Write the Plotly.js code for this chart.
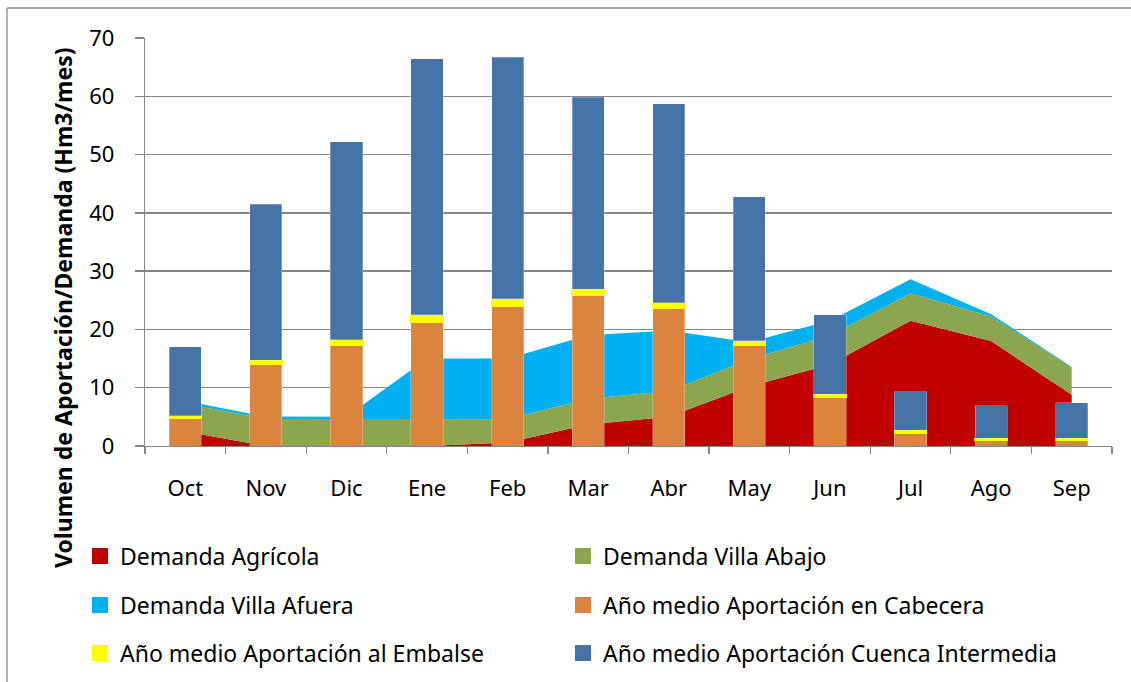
<!DOCTYPE html>
<html>
<head>
<meta charset="utf-8">
<script src="https://cdn.plot.ly/plotly-3.0.1.min.js"></script>
<style>html,body{margin:0;padding:0;background:#fff;}#chart{width:1131px;height:682px;}</style>
</head>
<body>
<div id="chart"></div>
<script>
// ---- data ----
var months = ["Oct","Nov","Dic","Ene","Feb","Mar","Abr","May","Jun","Jul","Ago","Sep"];
var demandaAgricola   = [2.5, 0.0, 0.0, 0.0, 0.6, 3.7, 5.0, 10.2, 14.0, 21.5, 18.0, 8.8];
var demandaVillaAbajo = [4.75, 4.65, 4.65, 4.65, 4.0, 4.4, 4.4, 4.7, 4.95, 4.7, 4.2, 4.7];
var demandaVillaAfuera= [0.45, 0.4, 0.35, 10.35, 10.4, 10.9, 10.4, 2.9, 2.55, 2.4, 0.4, 0.1];
var aportCabecera     = [4.7, 14.0, 17.2, 21.2, 24.0, 25.8, 23.6, 17.3, 8.3, 2.2, 0.9, 0.9];
var aportEmbalse      = [0.5, 0.7, 1.0, 1.3, 1.3, 1.1, 1.0, 0.8, 0.6, 0.5, 0.4, 0.4];
var aportIntermedia   = [11.8, 26.8, 34.0, 43.9, 41.4, 32.9, 34.1, 24.7, 13.6, 6.6, 5.6, 6.1];
var yTicks = [0,10,20,30,40,50,60,70];

var names = {
  agr: "Demanda Agrícola",
  abajo: "Demanda Villa Abajo",
  afuera: "Demanda Villa Afuera",
  cab: "Año medio Aportación en Cabecera",
  emb: "Año medio Aportación al Embalse",
  int: "Año medio Aportación Cuenca Intermedia"
};
var colors = {
  agr: "#C00000", abajo: "#8BA64E", afuera: "#00B0F0",
  cab: "#DB843F", emb: "#FFFF00", int: "#4573A7"
};

function area(key, vals){
  return {type:"scatter", mode:"none", x:months, y:vals, stackgroup:"dem",
    fill:"tonexty", fillcolor:colors[key], name:names[key], showlegend:false,
    xaxis:"x", yaxis:"y", hoverinfo:"skip", line:{width:0}};
}
function bar(key, vals){
  return {type:"bar", x:months, y:vals, name:names[key], showlegend:false,
    marker:{color:colors[key], line:{color: key==="emb" ? "#FFFF00" : "rgba(255,255,255,0.35)", width: key==="emb" ? 1.2 : 0.8}},
    xaxis:"x2", yaxis:"y2", hoverinfo:"skip"};
}
function proxy(key, legendId){
  return {type:"scatter", mode:"markers", x:[null], y:[null], name:names[key],
    marker:{symbol:"square", size:16, color:colors[key]}, legend:legendId,
    xaxis:"x2", yaxis:"y2", hoverinfo:"skip", showlegend:true};
}

var data = [
  area("agr", demandaAgricola),
  area("abajo", demandaVillaAbajo),
  area("afuera", demandaVillaAfuera),
  bar("cab", aportCabecera),
  bar("emb", aportEmbalse),
  bar("int", aportIntermedia),
  proxy("agr","legend"), proxy("abajo","legend2"),
  proxy("afuera","legend3"), proxy("cab","legend4"),
  proxy("emb","legend5"), proxy("int","legend6")
];

var FONT = "'Noto Sans', 'Open Sans', sans-serif";
var FS = 22, FSL = 23;
var L = 145, R = 19, T = 38, B = 236, W = 1131, H = 682;
var pw = W - L - R, ph = H - T - B;
function px2x(p){ return (p - L) / pw; }
function py2y(p){ return (H - B - p) / ph; }

function leg(xPix, yPix){
  return {orientation:"h", traceorder:"normal", x:px2x(xPix), xanchor:"left", y:py2y(yPix), yanchor:"middle",
    font:{family:FONT, size:FSL, color:"#000"},
    bgcolor:"rgba(0,0,0,0)", borderwidth:0, itemclick:false, itemdoubleclick:false};
}

var layout = {
  width:W, height:H,
  margin:{l:L, r:R, t:T, b:B, pad:0, autoexpand:false},
  paper_bgcolor:"#fff", plot_bgcolor:"#fff",
  font:{family:FONT, size:FS, color:"#000"},
  barmode:"stack", bargap:0.6,
  showlegend:true,
  xaxis:{type:"category", categoryorder:"array", categoryarray:months, range:[-0.5,11.5],
    showline:true, linecolor:"#868686", linewidth:1.3, showgrid:false,
    ticks:"outside", tickson:"boundaries", ticklen:7, tickcolor:"#868686", tickwidth:1.3,
    ticklabelstandoff:22, tickfont:{family:FONT, size:FS, color:"#000"}, zeroline:false, fixedrange:true, automargin:false},
  yaxis:{range:[0,70], tickvals:yTicks, ticktext:yTicks.map(String), showline:true, linecolor:"#868686", linewidth:1.3,
    showgrid:true, gridcolor:"#868686", gridwidth:1.3, zeroline:false,
    ticks:"outside", ticklen:9, tickcolor:"#868686", tickwidth:1.3, ticklabelstandoff:16,
    tickfont:{family:FONT, size:FS, color:"#000"}, fixedrange:true, automargin:false},
  xaxis2:{type:"category", categoryorder:"array", categoryarray:months, range:[-0.5,11.5],
    overlaying:"x", visible:false, fixedrange:true},
  yaxis2:{range:[0,70], overlaying:"y", visible:false, fixedrange:true},
  legend:  leg(80, 556),
  legend2: leg(563, 556),
  legend3: leg(80, 605),
  legend4: leg(563, 605),
  legend5: leg(80, 653),
  legend6: leg(563, 653),
  annotations:[{
    text:"<b>Volumen de Aportación/Demanda (Hm3/mes)</b>", textangle:-90,
    xref:"paper", yref:"paper", x:px2x(63), y:py2y(308), xanchor:"center", yanchor:"middle",
    showarrow:false, font:{family:FONT, size:FSL, color:"#000"}
  }],
  shapes:[
    {type:"line", xref:"paper", yref:"paper", x0:px2x(7), x1:px2x(1140), y0:py2y(8), y1:py2y(8), line:{color:"#8C8C8C", width:1.3}},
    {type:"line", xref:"paper", yref:"paper", x0:px2x(7), x1:px2x(7), y0:py2y(8), y1:py2y(700), line:{color:"#8C8C8C", width:1.3}}
  ]
};

Plotly.newPlot("chart", data, layout, {displayModeBar:false, staticPlot:true});
</script>
</body>
</html>
